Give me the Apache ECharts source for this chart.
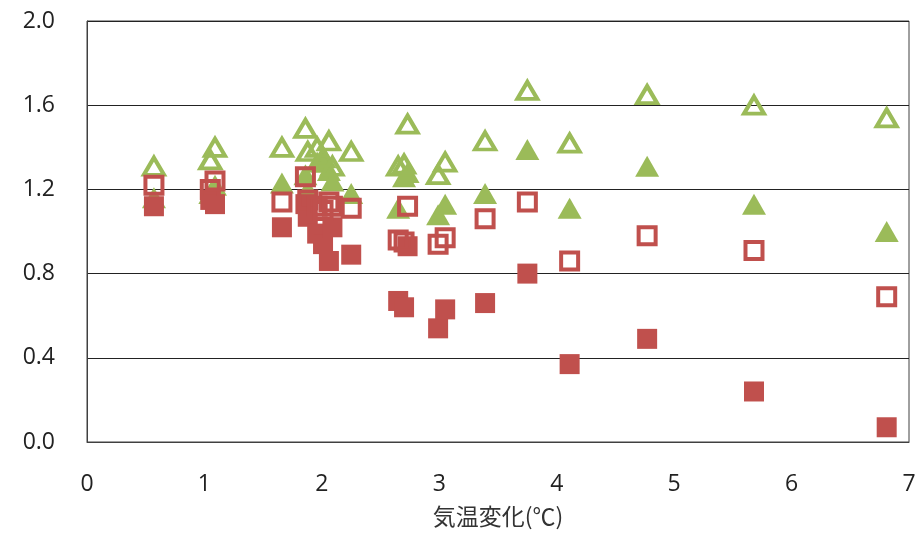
<!DOCTYPE html>
<html lang="ja">
<head>
    <meta charset="UTF-8">
    <script src="https://cdn.jsdelivr.net/npm/echarts@6/dist/echarts.min.js"></script>
    <style>
        html, body { margin: 0; padding: 0; background: #fff; }
        #main { width: 915px; height: 533px; }
    </style>
</head>
<body>
    <div id="main"></div>
</body>
<script>
    // 各モデルの気温変化 (x)
    var tempChange = [0.57, 1.05, 1.09, 1.66, 1.86, 1.88, 1.96, 2.01, 2.06, 2.09, 2.25,
                      2.65, 2.70, 2.73, 2.99, 3.05, 3.39, 3.75, 4.11, 4.77, 5.68, 6.81];
    var triFilled  = [1.16, 1.18, 1.22, 1.23, 1.27, 1.20, 1.33, 1.33, 1.29, 1.24, 1.18,
                      1.11, 1.26, 1.28, 1.08, 1.13, 1.18, 1.39, 1.11, 1.31, 1.13, 1.00];
    var triHollow  = [1.31, 1.34, 1.40, 1.40, 1.49, 1.38, 1.40, 1.35, 1.43, 1.31, 1.38,
                      1.31, 1.32, 1.51, 1.27, 1.33, 1.43, 1.67, 1.42, 1.65, 1.60, 1.54];
    var sqFilled   = [1.12, 1.15, 1.13, 1.02, 1.13, 1.07, 0.99, 0.94, 0.86, 1.02, 0.89,
                      0.67, 0.64, 0.93, 0.54, 0.63, 0.66, 0.80, 0.37, 0.49, 0.24, 0.07];
    var sqHollow   = [1.22, 1.20, 1.24, 1.14, 1.26, 1.15, 1.12, 1.10, 1.14, 1.12, 1.11,
                      0.96, 0.95, 1.12, 0.94, 0.97, 1.06, 1.14, 0.86, 0.98, 0.91, 0.69];

    var green = '#9BBB59';
    var red = '#C0504D';

    function pairs(ys) {
        return tempChange.map(function (x, i) { return [x, ys[i]]; });
    }

    var myChart = echarts.init(document.getElementById('main'));
    var option = {
        animation: false,
        grid: {
            left: 87, right: 6, top: 21, bottom: 91,
            outerBoundsMode: 'none', containLabel: false,
            show: true, borderColor: '#404040', borderWidth: 1
        },
        xAxis: {
            type: 'value', min: 0, max: 7, interval: 1,
            name: '気温変化(℃)', nameLocation: 'middle', nameGap: 63,
            nameTextStyle: { fontSize: 23, color: '#333', fontFamily: 'Noto Sans CJK JP' },
            axisLine: { show: true, lineStyle: { color: '#404040' } },
            axisTick: { show: false },
            splitLine: { show: false },
            axisLabel: { fontSize: 23, color: '#222', margin: 31, fontFamily: 'Open Sans' }
        },
        yAxis: {
            type: 'value', min: 0, max: 2, interval: 0.4,
            axisLine: { show: true, lineStyle: { color: '#404040' } },
            axisTick: { show: false },
            splitLine: { show: true, lineStyle: { color: '#222', width: 1 } },
            axisLabel: {
                fontSize: 23, color: '#222', margin: 32, fontFamily: 'Open Sans',
                formatter: function (v) { return v.toFixed(1); }
            }
        },
        series: [
            {
                type: 'scatter', symbol: 'triangle', symbolSize: [24, 21],
                itemStyle: { color: green, opacity: 1 },
                data: pairs(triFilled)
            },
            {
                type: 'scatter', symbol: 'triangle', symbolSize: [20, 17],
                itemStyle: { color: 'rgba(255,255,255,0)', borderColor: green, borderWidth: 4, opacity: 1 },
                data: pairs(triHollow)
            },
            {
                type: 'scatter', symbol: 'rect', symbolSize: 20,
                itemStyle: { color: red, opacity: 1 },
                data: pairs(sqFilled)
            },
            {
                type: 'scatter', symbol: 'rect', symbolSize: 17,
                itemStyle: { color: 'rgba(255,255,255,0)', borderColor: red, borderWidth: 4, opacity: 1 },
                data: pairs(sqHollow)
            }
        ]
    };
    myChart.setOption(option);
</script>
</html>
